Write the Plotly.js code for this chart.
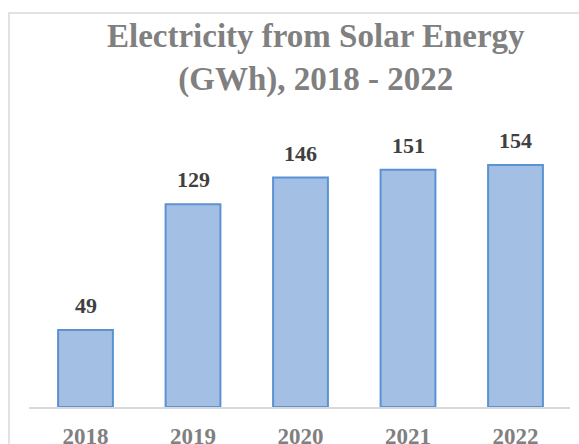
<!DOCTYPE html>
<html>
<head>
<meta charset="utf-8">
<script src="https://cdn.plot.ly/plotly-3.0.1.min.js"></script>
<style>html,body{margin:0;padding:0;background:#fff;}#chart{width:579px;height:444px;}</style>
</head>
<body>
<div id="chart"></div>
<script>
const years = ['2018', '2019', '2020', '2021', '2022'];
const solarGWh = [49, 129, 146, 151, 154];
const chartTitle = 'Electricity from Solar Energy<br>(GWh), 2018 - 2022';

const serif = '"Liberation Serif", "Times New Roman", Times, serif';

const trace = {
  type: 'bar',
  x: years,
  y: solarGWh,
  width: 0.51,
  marker: {
    color: '#a3bfe3',
    line: {color: '#5b92d3', width: 2}
  },
  hoverinfo: 'x+y'
};

// category axis: annotations placed by category index
const labels = years.map((yr, i) => ({
  x: i, y: solarGWh[i], xref: 'x', yref: 'y',
  text: '<b>' + solarGWh[i] + '</b>',
  showarrow: false, xanchor: 'center', yanchor: 'bottom', yshift: 10,
  font: {family: serif, size: 22, color: '#404040'}
}));

const titleAnn = {
  xref: 'paper', yref: 'paper', x: 0.5305, y: 1.272,
  xanchor: 'center', yanchor: 'top', showarrow: false,
  text: '<b>' + chartTitle + '</b>',
  font: {family: serif, size: 33, color: '#808080'}
};

const layout = {
  width: 579, height: 444,
  margin: {l: 29, r: 9, t: 100, b: 37},
  paper_bgcolor: '#ffffff', plot_bgcolor: '#ffffff',
  showlegend: false,
  xaxis: {
    type: 'category',
    range: [-0.5256, 4.507],
    showline: true, linecolor: '#d9d9d9', linewidth: 2,
    showgrid: false, zeroline: false, ticks: '',
    ticklabelstandoff: 7,
    tickfont: {family: serif, size: 23, color: '#808080', weight: 'bold'}
  },
  yaxis: {
    range: [0, 195.4],
    showticklabels: false, showline: false, showgrid: false, zeroline: false, ticks: ''
  },
  annotations: labels.concat([titleAnn]),
  shapes: [{
    type: 'rect', xref: 'paper', yref: 'paper',
    x0: -0.037, x1: 1.2, y0: -0.3, y1: 1.283,
    line: {color: '#d9d9d9', width: 1.5}, fillcolor: 'rgba(0,0,0,0)', layer: 'below'
  }]
};

Plotly.newPlot('chart', [trace], layout, {displayModeBar: false, staticPlot: true});
</script>
</body>
</html>
